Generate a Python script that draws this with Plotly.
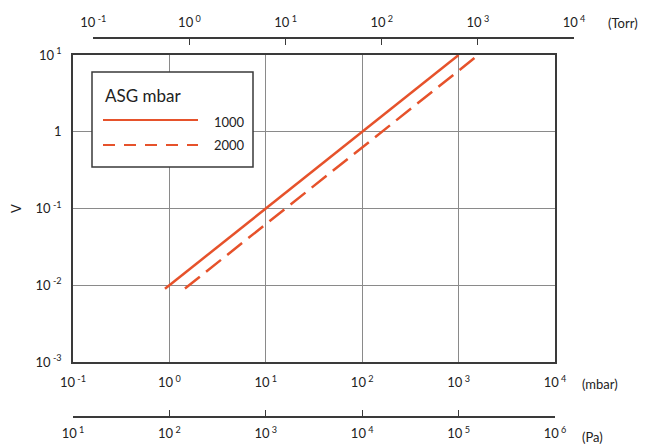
import plotly.graph_objects as go

# ---- data ----
pressure_1000 = [0.9, 1000]        # mbar
volt_1000 = [0.009, 10]            # V
pressure_2000 = [1.45, 1600]       # mbar
volt_2000 = [0.00906, 10]          # V

mbar_ticks = [0.1, 1, 10, 100, 1000, 10000]
mbar_labels = ["10<sup>&nbsp;-1</sup>", "10<sup>&nbsp;0</sup>", "10<sup>&nbsp;1</sup>",
               "10<sup>&nbsp;2</sup>", "10<sup>&nbsp;3</sup>", "10<sup>&nbsp;4</sup>"]
torr_ticks = [0.1, 1, 10, 100, 1000, 10000]
torr_labels = ["10<sup>&nbsp;-1</sup>", "10<sup>&nbsp;0</sup>", "10<sup>&nbsp;1</sup>",
               "10<sup>&nbsp;2</sup>", "10<sup>&nbsp;3</sup>", "10<sup>&nbsp;4</sup>"]
pa_ticks = [1e1, 1e2, 1e3, 1e4, 1e5, 1e6]
pa_labels = ["10<sup>&nbsp;1</sup>", "10<sup>&nbsp;2</sup>", "10<sup>&nbsp;3</sup>",
             "10<sup>&nbsp;4</sup>", "10<sup>&nbsp;5</sup>", "10<sup>&nbsp;6</sup>"]
v_ticks = [0.001, 0.01, 0.1, 1, 10]
v_labels = ["10<sup>&nbsp;-3</sup>", "10<sup>&nbsp;-2</sup>", "10<sup>&nbsp;-1</sup>", "1",
            "10<sup>&nbsp;1</sup>"]

RED = "#E6522B"
AX = "#3a3a3a"
GRID = "#8a8a8a"
FONT = "Lato"

fig = go.Figure()
fig.add_trace(go.Scatter(x=pressure_1000, y=volt_1000, mode="lines",
                         line=dict(color=RED, width=2.5), name="1000",
                         showlegend=False))
fig.add_trace(go.Scatter(x=pressure_2000, y=volt_2000, mode="lines",
                         line=dict(color=RED, width=2.5, dash="19px,8px"), name="2000",
                         showlegend=False))
# carrier traces for the secondary pressure scales
fig.add_trace(go.Scatter(x=torr_ticks, y=[1] * len(torr_ticks), xaxis="x2", yaxis="y4",
                         mode="markers", marker=dict(opacity=0), hoverinfo="skip",
                         showlegend=False))
fig.add_trace(go.Scatter(x=pa_ticks, y=[1] * len(pa_ticks), xaxis="x3", yaxis="y5",
                         mode="markers", marker=dict(opacity=0), hoverinfo="skip",
                         showlegend=False))

tickfont = dict(family=FONT, size=13, color="#222")

fig.update_layout(
    width=642, height=436,
    margin=dict(l=65, r=76, t=30, b=27, autoexpand=False),
    paper_bgcolor="white", plot_bgcolor="rgba(0,0,0,0)",
    font=dict(family=FONT, size=13, color="#222"),
    xaxis=dict(domain=[0, 0.9621], type="log", range=[-1, 4], anchor="y",
               tickvals=mbar_ticks, ticktext=mbar_labels, tickfont=tickfont,
               showgrid=True, gridcolor=GRID, gridwidth=1,
               showline=True, linecolor=AX, linewidth=1.5, mirror=True,
               ticks="", ticklabelstandoff=8, zeroline=False),
    yaxis=dict(domain=[0.1451, 0.9551], type="log", range=[-3, 1], anchor="x",
               tickvals=v_ticks, ticktext=v_labels, tickfont=tickfont,
               showgrid=True, gridcolor=GRID, gridwidth=1,
               showline=True, linecolor=AX, linewidth=1.5, mirror=True,
               ticks="", ticklabelstandoff=7, zeroline=False,
               title=dict(text="V", font=dict(family=FONT, size=13, color="#222"),
                          standoff=12)),
    xaxis2=dict(domain=[0.0405, 1], type="log", range=[-1, 4], anchor="free",
                position=1, side="top",
                tickvals=torr_ticks, ticktext=torr_labels, tickfont=tickfont,
                showgrid=False, showline=True, linecolor=AX, linewidth=1.5,
                ticks="inside", ticklen=6, tickwidth=1.2, tickcolor=AX,
                ticklabelstandoff=5, zeroline=False),
    yaxis4=dict(domain=[0.97, 1], anchor="x2", visible=False, range=[0, 2]),
    xaxis3=dict(domain=[0, 0.9621], type="log", range=[1, 6], anchor="free",
                position=0, side="bottom",
                tickvals=pa_ticks, ticktext=pa_labels, tickfont=tickfont,
                showgrid=False, showline=True, linecolor=AX, linewidth=1.5,
                ticks="inside", ticklen=6, tickwidth=1.2, tickcolor=AX,
                ticklabelstandoff=5, zeroline=False),
    yaxis5=dict(domain=[0, 0.03], anchor="x3", visible=False, range=[0, 2]),
)

# pixel helpers (reference-image pixels -> paper fractions)
def px(xp):
    return (xp - 73) / 501


def py(yp):
    return (417 - yp) / 379


# unit annotations
unit_font = dict(family=FONT, size=13, color="#222")
fig.add_annotation(text="(mbar)", xref="paper", yref="paper", x=px(580), y=py(384),
                   xanchor="left", yanchor="middle", showarrow=False, font=unit_font)
fig.add_annotation(text="(Torr)", xref="paper", yref="paper", x=px(606), y=py(23),
                   xanchor="left", yanchor="middle", showarrow=False, font=unit_font)
fig.add_annotation(text="(Pa)", xref="paper", yref="paper", x=px(580), y=py(437),
                   xanchor="left", yanchor="middle", showarrow=False, font=unit_font)

# hand-drawn legend box
fig.add_shape(type="rect", xref="paper", yref="paper", x0=px(92), x1=px(253),
              y0=py(167), y1=py(72), line=dict(color=AX, width=1.5),
              fillcolor="white", layer="above")
fig.add_annotation(text="ASG mbar", xref="paper", yref="paper", x=px(103), y=py(95),
                   xanchor="left", yanchor="middle", showarrow=False,
                   font=dict(family=FONT, size=17, color="#222"))
fig.add_shape(type="line", xref="paper", yref="paper", x0=px(103), x1=px(198),
              y0=py(120), y1=py(120), line=dict(color=RED, width=2), layer="above")
fig.add_shape(type="line", xref="paper", yref="paper", x0=px(103), x1=px(198),
              y0=py(145), y1=py(145), line=dict(color=RED, width=2, dash="12px,9px"),
              layer="above")
fig.add_annotation(text="1000", xref="paper", yref="paper", x=px(212), y=py(122),
                   xanchor="left", yanchor="middle", showarrow=False,
                   font=dict(family=FONT, size=13, color="#222"))
fig.add_annotation(text="2000", xref="paper", yref="paper", x=px(212), y=py(145),
                   xanchor="left", yanchor="middle", showarrow=False,
                   font=dict(family=FONT, size=13, color="#222"))

fig.write_html("out.html")
